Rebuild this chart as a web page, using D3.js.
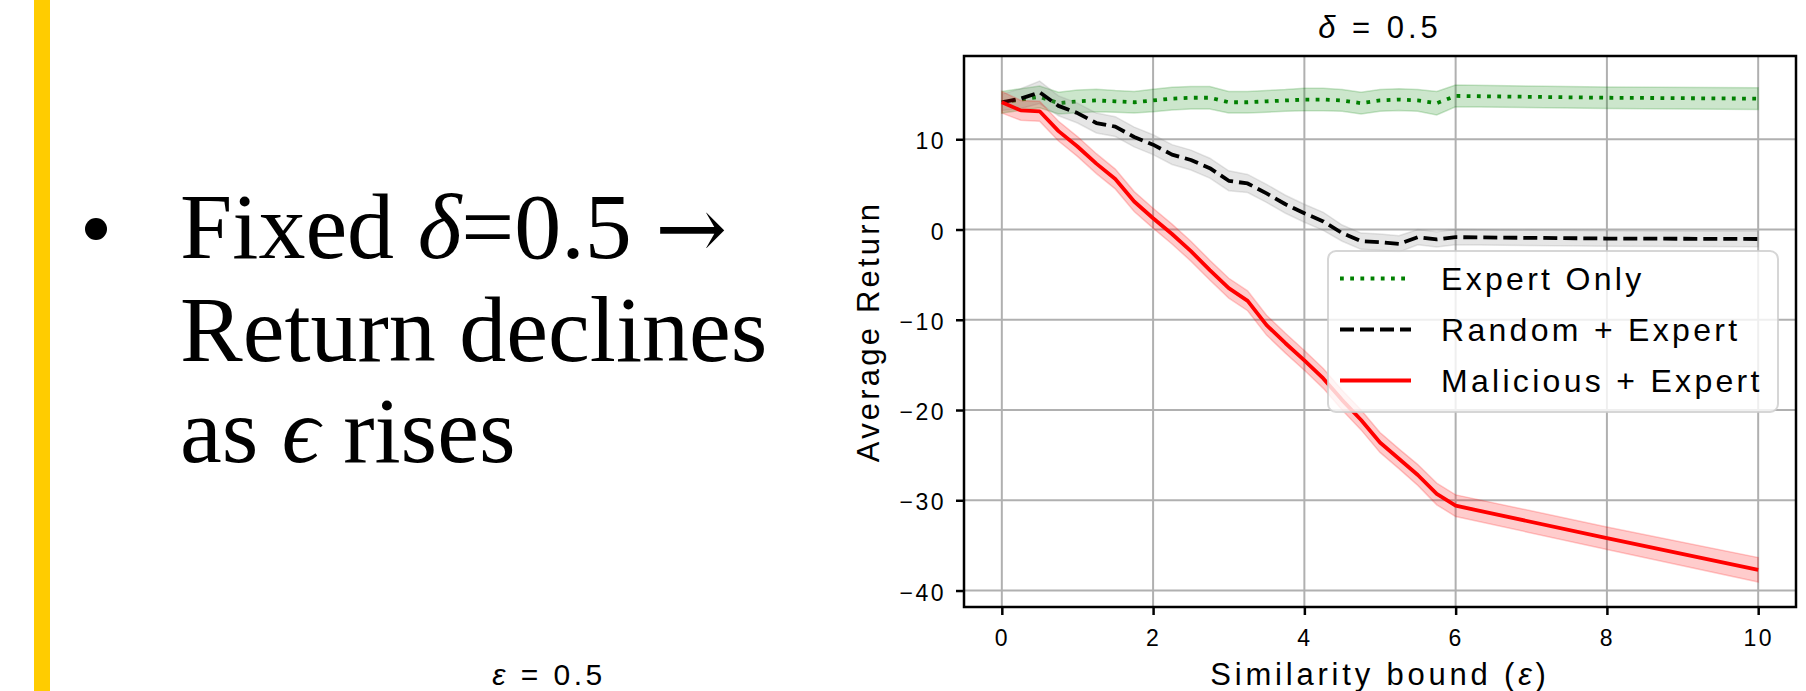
<!DOCTYPE html>
<html lang="en">
<head>
  <meta charset="UTF-8">
  <title>Return vs similarity bound, delta = 0.5</title>
  <script src="https://cdn.jsdelivr.net/npm/d3@7"></script>
</head>
<body style="margin:0; width:1806px; height:691px; background-color:#FFFFFF; overflow:hidden;">
<script>
  const epsilons = [0, 0.25, 0.5, 0.75, 1, 1.25, 1.5, 1.75, 2, 2.25, 2.5, 2.75, 3, 3.25, 3.5, 3.75,
    4, 4.25, 4.5, 4.75, 5, 5.25, 5.5, 5.75, 6, 8, 10];

  const expertOnly = [14.1, 14.4, 14.7, 14.0, 14.2, 14.3, 14.2, 14.1, 14.3, 14.5, 14.6, 14.6, 14.1, 14.1,
    14.2, 14.3, 14.4, 14.4, 14.3, 14.0, 14.3, 14.4, 14.3, 14.0, 14.8, 14.6, 14.5];
  const expertOnlyStd = [1.2, 1.2, 1.2, 1.2, 1.25, 1.25, 1.2, 1.2, 1.25, 1.25, 1.25, 1.25, 1.2, 1.2,
    1.2, 1.2, 1.25, 1.25, 1.2, 1.2, 1.2, 1.2, 1.2, 1.3, 1.2, 1.2, 1.2];

  const randomExpert = [14.1, 14.5, 15.2, 13.7, 12.9, 11.8, 11.4, 10.25, 9.4, 8.3, 7.7, 6.8, 5.4, 5.1,
    4.0, 2.8, 1.8, 0.9, -0.4, -1.3, -1.4, -1.6, -0.85, -1.1, -0.85, -1.0, -1.05];
  const randomExpertStd = [0.9, 1.1, 1.25, 1.1, 1.1, 1.1, 1.1, 1.1, 1.1, 1.1, 1.1, 1.1, 1.1, 1.0,
    1.0, 1.0, 1.0, 1.0, 0.9, 0.9, 0.9, 0.9, 0.85, 0.85, 0.85, 0.85, 0.85];

  const maliciousExpert = [14.1, 13.2, 13.1, 10.9, 9.2, 7.3, 5.6, 3.1, 1.25, -0.5, -2.4, -4.5, -6.5, -7.9,
    -10.6, -12.6, -14.5, -16.5, -18.9, -21.1, -23.6, -25.4, -27.2, -29.3, -30.6, -34.2, -37.7];
  const maliciousExpertStd = [1.2, 1.1, 1.1, 1.1, 1.1, 1.1, 1.1, 1.1, 1.1, 1.1, 1.1, 1.1, 1.1, 1.1,
    1.1, 1.1, 1.1, 1.1, 1.1, 1.1, 1.1, 1.1, 1.15, 1.2, 1.2, 1.25, 1.35];

  const seriesNames = ["Expert Only", "Random + Expert", "Malicious + Expert"];
  const xTicks = [0, 2, 4, 6, 8, 10];
  const yTicks = [-40, -30, -20, -10, 0, 10];

  const width = 1806;
  const height = 691;
  const plot = {left: 964, right: 1796, top: 56, bottom: 607};
  const sans = "'Liberation Sans', Arial, sans-serif";
  const serif = "'Liberation Serif', 'Times New Roman', serif";

  const series = [
    {name: seriesNames[0], mean: expertOnly, std: expertOnlyStd, color: "#008000", band: "#008000", dash: "3.8,6.4"},
    {name: seriesNames[1], mean: randomExpert, std: randomExpertStd, color: "#000000", band: "#808080", dash: "14,6"},
    {name: seriesNames[2], mean: maliciousExpert, std: maliciousExpertStd, color: "#FF0000", band: "#FF0000", dash: null}
  ];

  const svg = d3.select("body")
          .append("svg")
          .attr("width", width)
          .attr("height", height)
          .style("display", "block")
          .style("background-color", "#FFFFFF");

  // ---- slide text on the left
  svg.append("rect")
          .attr("x", 34)
          .attr("y", 0)
          .attr("width", 16)
          .attr("height", height)
          .attr("fill", "#FFCC00");

  svg.append("circle")
          .attr("cx", 96)
          .attr("cy", 229)
          .attr("r", 11)
          .attr("fill", "#000");

  const bullet = svg.append("g")
          .style("font-family", serif)
          .style("font-size", "94px")
          .attr("fill", "#000");

  const l1 = bullet.append("text").attr("x", 180).attr("y", 258);
  l1.append("tspan").text("Fixed ");
  l1.append("tspan").style("font-style", "italic").text("δ");
  l1.append("tspan").text("=0.5 ");
  l1.append("tspan").style("font-family", "'DejaVu Serif', serif").style("font-size", "86px").text("→");

  bullet.append("text").attr("x", 180).attr("y", 361).text("Return declines");

  const l3 = bullet.append("text").attr("x", 180).attr("y", 462);
  l3.append("tspan").text("as ");
  l3.append("tspan").style("font-style", "italic").text("ϵ");
  l3.append("tspan").text(" rises");

  // title of the neighbouring panel, cut by the bottom edge
  const other = svg.append("text")
          .attr("x", 549)
          .attr("y", 685)
          .attr("text-anchor", "middle")
          .style("font-family", sans)
          .style("font-size", "30px")
          .style("letter-spacing", "3.5px")
          .attr("fill", "#000");
  other.append("tspan").style("font-style", "italic").text("ε");
  other.append("tspan").text(" = 0.5");

  // ---- chart
  const lo = d3.min(series, s => d3.min(s.mean, (m, i) => m - s.std[i]));
  const hi = d3.max(series, s => d3.max(s.mean, (m, i) => m + s.std[i]));
  const yPad = (hi - lo) * 0.05;
  const [xMin, xMax] = d3.extent(epsilons);
  const xPad = (xMax - xMin) * 0.05;

  const xScale = d3.scaleLinear().domain([xMin - xPad, xMax + xPad]).range([plot.left, plot.right]);
  const yScale = d3.scaleLinear().domain([lo - yPad, hi + yPad]).range([plot.bottom, plot.top]);

  // grid
  svg.append("g")
          .selectAll("line")
          .data(xTicks)
          .enter()
          .append("line")
          .attr("x1", d => xScale(d))
          .attr("x2", d => xScale(d))
          .attr("y1", plot.top)
          .attr("y2", plot.bottom)
          .attr("stroke", "#b0b0b0")
          .attr("stroke-width", 2);

  svg.append("g")
          .selectAll("line")
          .data(yTicks)
          .enter()
          .append("line")
          .attr("x1", plot.left)
          .attr("x2", plot.right)
          .attr("y1", d => yScale(d))
          .attr("y2", d => yScale(d))
          .attr("stroke", "#b0b0b0")
          .attr("stroke-width", 2);

  const area = (s) => d3.area()
          .x((d, i) => xScale(epsilons[i]))
          .y0((d, i) => yScale(d - s.std[i]))
          .y1((d, i) => yScale(d + s.std[i]));

  const line = d3.line()
          .x((d, i) => xScale(epsilons[i]))
          .y(d => yScale(d));

  series.forEach(s => {
    svg.append("path")
            .datum(s.mean)
            .attr("d", area(s))
            .attr("fill", s.band)
            .attr("fill-opacity", 0.2)
            .attr("stroke", s.band)
            .attr("stroke-opacity", 0.2)
            .attr("stroke-width", 1.5);

    svg.append("path")
            .datum(s.mean)
            .attr("d", line)
            .attr("fill", "none")
            .attr("stroke", s.color)
            .attr("stroke-width", 3.8)
            .attr("stroke-linejoin", "round")
            .attr("stroke-dasharray", s.dash);
  });

  // axes
  const xAxis = svg.append("g")
          .attr("transform", `translate(0, ${plot.bottom})`)
          .call(d3.axisBottom(xScale).tickValues(xTicks).tickSize(8).tickPadding(15).tickFormat(d3.format("d")));

  const yAxis = svg.append("g")
          .attr("transform", `translate(${plot.left}, 0)`)
          .call(d3.axisLeft(yScale).tickValues(yTicks).tickSize(8).tickPadding(10).tickFormat(d3.format("d")));

  [xAxis, yAxis].forEach(ax => {
    ax.select(".domain").remove();
    ax.selectAll(".tick line").attr("stroke", "#000").attr("stroke-width", 2.5);
    ax.selectAll(".tick text")
            .attr("fill", "#000")
            .style("font-family", sans)
            .style("font-size", "23px")
            .style("letter-spacing", "2.5px");
  });
  xAxis.selectAll(".tick text").attr("dy", "0.71em");
  yAxis.selectAll(".tick text").attr("dy", "0.42em");

  // spines
  svg.append("rect")
          .attr("x", plot.left)
          .attr("y", plot.top)
          .attr("width", plot.right - plot.left)
          .attr("height", plot.bottom - plot.top)
          .attr("fill", "none")
          .attr("stroke", "#000")
          .attr("stroke-width", 2.5);

  // title and labels
  const title = svg.append("text")
          .attr("x", (plot.left + plot.right) / 2)
          .attr("y", 38)
          .attr("text-anchor", "middle")
          .style("font-family", sans)
          .style("font-size", "31px")
          .style("letter-spacing", "4px")
          .attr("fill", "#000");
  title.append("tspan").style("font-style", "italic").text("δ");
  title.append("tspan").text(" = 0.5");

  const xLabel = svg.append("text")
          .attr("x", (plot.left + plot.right) / 2)
          .attr("y", 685)
          .attr("text-anchor", "middle")
          .style("font-family", sans)
          .style("font-size", "31px")
          .style("letter-spacing", "3.8px")
          .attr("fill", "#000");
  xLabel.append("tspan").text("Similarity bound (");
  xLabel.append("tspan").style("font-style", "italic").text("ε");
  xLabel.append("tspan").text(")");

  svg.append("text")
          .attr("transform", `translate(879, ${(plot.top + plot.bottom) / 2}) rotate(-90)`)
          .attr("text-anchor", "middle")
          .style("font-family", sans)
          .style("font-size", "31px")
          .style("letter-spacing", "3.2px")
          .attr("fill", "#000")
          .text("Average Return");

  // legend
  const legend = svg.append("g").attr("transform", "translate(1328, 251)");
  legend.append("rect")
          .attr("width", 450)
          .attr("height", 161)
          .attr("rx", 8)
          .attr("fill", "#FFFFFF")
          .attr("fill-opacity", 0.8)
          .attr("stroke", "#cccccc")
          .attr("stroke-opacity", 0.8)
          .attr("stroke-width", 2);

  const rows = legend.selectAll("g.row")
          .data(series)
          .enter()
          .append("g")
          .attr("class", "row")
          .attr("transform", (d, i) => `translate(0, ${27.5 + i * 51})`);

  rows.append("line")
          .attr("x1", 12)
          .attr("x2", 83)
          .attr("stroke", d => d.color)
          .attr("stroke-width", 3.8)
          .attr("stroke-dasharray", d => d.dash);

  rows.append("text")
          .attr("x", 113)
          .attr("y", 11.5)
          .style("font-family", sans)
          .style("font-size", "32px")
          .style("letter-spacing", "3.3px")
          .attr("fill", "#000")
          .text(d => d.name);
</script>
</body>
</html>
